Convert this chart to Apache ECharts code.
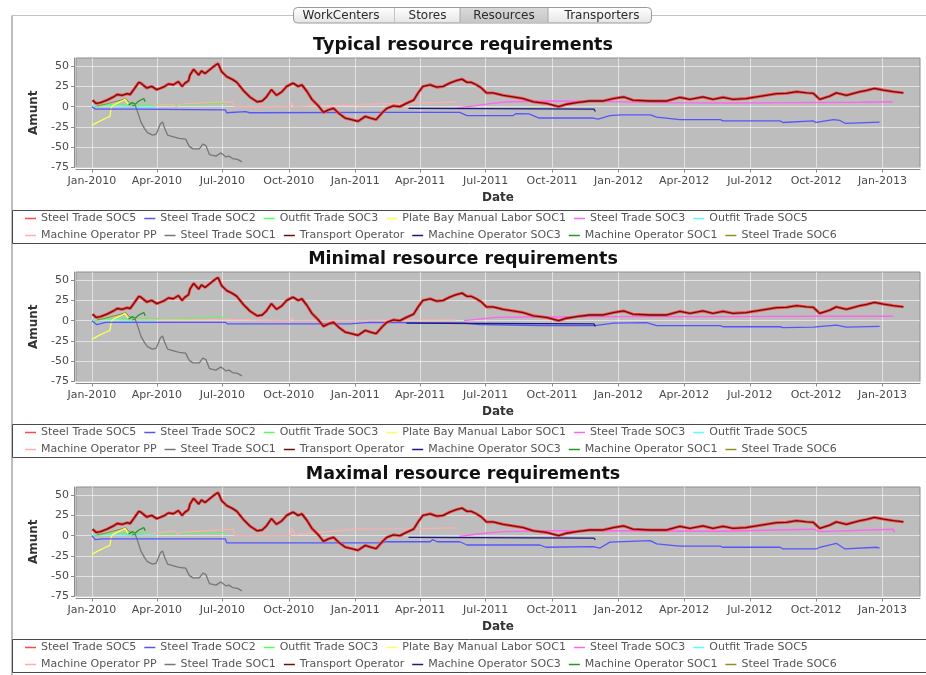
<!DOCTYPE html>
<html>
<head>
<meta charset="utf-8">
<title>Resource requirements</title>
<script src="https://cdn.jsdelivr.net/npm/echarts@6/dist/echarts.min.js"></script>
<style>
  html, body { margin: 0; padding: 0; background: #ffffff; }
  #chart { width: 926px; height: 675px; }
</style>
</head>
<body>
<div id="chart"></div>
<script>
// ---------------------------------------------------------------------------
// Data: resource requirement curves, [date, amount]
// ---------------------------------------------------------------------------
const chartTitles = ['Typical resource requirements', 'Minimal resource requirements', 'Maximal resource requirements'];
const tabNames = ['WorkCenters', 'Stores', 'Resources', 'Transporters'];
const xTickDates = ['2010-01-01', '2010-04-01', '2010-07-01', '2010-10-01', '2011-01-01', '2011-04-01', '2011-07-01',
  '2011-10-01', '2012-01-01', '2012-04-01', '2012-07-01', '2012-10-01', '2013-01-01'];
const yTickValues = [-75, -50, -25, 0, 25, 50];
const dateMin = '2009-12-10';
const dateMax = '2013-02-22';

const legendRow1 = ['Steel Trade SOC5', 'Steel Trade SOC2', 'Outfit Trade SOC3', 'Plate Bay Manual Labor SOC1', 'Steel Trade SOC3', 'Outfit Trade SOC5'];
const legendRow2 = ['Machine Operator PP', 'Steel Trade SOC1', 'Transport Operator', 'Machine Operator SOC3', 'Machine Operator SOC1', 'Steel Trade SOC6'];

// Curves that are the same in all three scenarios
const transportOperator = [
  ['2010-01-02', 8], ['2010-01-07', 4], ['2010-01-13', 5], ['2010-01-22', 8], ['2010-01-31', 12], ['2010-02-05', 15],
  ['2010-02-12', 14], ['2010-02-19', 16], ['2010-02-23', 15], ['2010-02-28', 21], ['2010-03-07', 30], ['2010-03-10', 29],
  ['2010-03-18', 23], ['2010-03-25', 25], ['2010-04-01', 21], ['2010-04-10', 24], ['2010-04-17', 28], ['2010-04-24', 27],
  ['2010-05-01', 31], ['2010-05-06', 25], ['2010-05-10', 29], ['2010-05-15', 32], ['2010-05-17', 39], ['2010-05-22', 46],
  ['2010-05-29', 39], ['2010-06-02', 44], ['2010-06-07', 41], ['2010-06-14', 46], ['2010-06-21', 51], ['2010-06-25', 53],
  ['2010-06-30', 43], ['2010-07-07', 37], ['2010-07-14', 34], ['2010-07-21', 30], ['2010-07-30', 20], ['2010-08-08', 12],
  ['2010-08-18', 6], ['2010-08-25', 7], ['2010-08-31', 12], ['2010-09-07', 21], ['2010-09-14', 14], ['2010-09-21', 18],
  ['2010-09-28', 25], ['2010-10-07', 29], ['2010-10-14', 25], ['2010-10-19', 27], ['2010-10-26', 19], ['2010-11-02', 9],
  ['2010-11-11', 1], ['2010-11-18', -7], ['2010-11-25', -4], ['2010-12-02', -2], ['2010-12-09', -8], ['2010-12-18', -14],
  ['2010-12-27', -16], ['2011-01-05', -18], ['2011-01-15', -12], ['2011-01-22', -14], ['2011-01-30', -16], ['2011-02-07', -8],
  ['2011-02-14', -2], ['2011-02-23', 1], ['2011-03-04', 0], ['2011-03-13', 4], ['2011-03-23', 8], ['2011-03-30', 18],
  ['2011-04-05', 25], ['2011-04-15', 27], ['2011-04-24', 24], ['2011-05-03', 25], ['2011-05-12', 29], ['2011-05-21', 32],
  ['2011-05-29', 34], ['2011-06-05', 30], ['2011-06-11', 30], ['2011-06-18', 27], ['2011-06-25', 23], ['2011-07-02', 17],
  ['2011-07-11', 17], ['2011-07-25', 14], ['2011-08-08', 12], ['2011-08-22', 10], ['2011-09-05', 6], ['2011-09-23', 4],
  ['2011-10-10', 0], ['2011-10-21', 3], ['2011-11-04', 5], ['2011-11-22', 7], ['2011-12-11', 7], ['2011-12-25', 10],
  ['2012-01-08', 12], ['2012-01-21', 8], ['2012-02-14', 7], ['2012-03-08', 7], ['2012-03-26', 11.5], ['2012-04-09', 9],
  ['2012-04-27', 12], ['2012-05-11', 9], ['2012-05-25', 11.5], ['2012-06-08', 9], ['2012-06-26', 10], ['2012-07-10', 12],
  ['2012-07-24', 14], ['2012-08-07', 16], ['2012-08-21', 16.5], ['2012-09-04', 18.5], ['2012-09-18', 17], ['2012-09-27', 16.5],
  ['2012-10-06', 9], ['2012-10-20', 13], ['2012-10-29', 17], ['2012-11-12', 14], ['2012-12-01', 18.5], ['2012-12-10', 20],
  ['2012-12-21', 22.5], ['2013-01-02', 20.5], ['2013-01-16', 18.5], ['2013-01-30', 17]
];
// The SOC5 steel trade requirement runs along the transport operator curve
const steelTradeSoc5 = transportOperator;

const steelTradeSoc1 = [
  ['2010-02-26', 1], ['2010-03-02', 2], ['2010-03-06', -8], ['2010-03-10', -19], ['2010-03-15', -27], ['2010-03-19', -32],
  ['2010-03-26', -35], ['2010-03-31', -34], ['2010-04-02', -30], ['2010-04-06', -21], ['2010-04-09', -19], ['2010-04-12', -27],
  ['2010-04-16', -35], ['2010-04-23', -37], ['2010-05-02', -39], ['2010-05-11', -40], ['2010-05-16', -49], ['2010-05-21', -52],
  ['2010-05-30', -52], ['2010-06-04', -46], ['2010-06-08', -48], ['2010-06-13', -59], ['2010-06-22', -61], ['2010-06-29', -57],
  ['2010-07-06', -62], ['2010-07-10', -61], ['2010-07-15', -64], ['2010-07-22', -65], ['2010-07-28', -68]
];
const plateBaySoc1 = [
  ['2010-01-01', -23], ['2010-01-09', -19], ['2010-01-21', -14], ['2010-01-26', -12], ['2010-01-28', -1], ['2010-01-31', 2],
  ['2010-02-05', 4], ['2010-02-12', 7], ['2010-02-16', 9], ['2010-02-18', 6], ['2010-02-20', 3]
];
const steelTradeSoc6 = [
  ['2010-01-08', 1], ['2010-01-20', 3], ['2010-02-01', 6], ['2010-02-10', 8], ['2010-02-17', 10], ['2010-02-22', 5], ['2010-02-26', 3]
];
const machineOpSoc1 = [
  ['2010-02-21', 2], ['2010-02-26', 5], ['2010-03-02', 3], ['2010-03-07', 7], ['2010-03-09', 5], ['2010-03-14', 10], ['2010-03-16', 6]
];
const outfitTradeSoc3 = [
  ['2010-01-04', 0], ['2010-01-20', 2], ['2010-02-10', 3], ['2010-03-01', 2], ['2010-03-20', 3], ['2010-04-15', 2],
  ['2010-05-20', 3], ['2010-06-25', 4], ['2010-07-06', 4]
];
const outfitTradeSoc5 = [['2010-01-01', 1], ['2010-02-01', 1], ['2010-03-01', 0], ['2010-04-01', 0]];

// Typical scenario
const steelTradeSoc2Typ = [
  ['2010-01-01', 0], ['2010-01-06', -3], ['2010-03-01', -3], ['2010-03-03', -4], ['2010-07-05', -4], ['2010-07-07', -7.5],
  ['2010-08-02', -6], ['2010-08-08', -7.5], ['2011-02-10', -7], ['2011-05-26', -7], ['2011-06-05', -11], ['2011-08-08', -11],
  ['2011-08-12', -8.5], ['2011-08-30', -9], ['2011-09-13', -14], ['2011-11-27', -14], ['2011-12-04', -15.5], ['2011-12-20', -11],
  ['2012-01-05', -10], ['2012-02-14', -10], ['2012-02-23', -13], ['2012-03-26', -16], ['2012-05-21', -16], ['2012-05-25', -17.5],
  ['2012-08-12', -17.5], ['2012-08-16', -19.5], ['2012-09-27', -17.5], ['2012-10-01', -19.5], ['2012-10-25', -16], ['2012-11-03', -17],
  ['2012-11-10', -20.5], ['2012-12-28', -19]
];
const machineOpSoc3Typ = [['2011-03-16', -2], ['2011-07-01', -2.5], ['2011-11-28', -3], ['2011-11-30', -6]];
const machineOpPPTyp = [
  ['2010-03-27', 2], ['2010-04-24', 3], ['2010-04-28', 0], ['2010-05-03', 3], ['2010-06-10', 5], ['2010-07-16', 6],
  ['2010-07-18', 0], ['2010-10-03', 0], ['2010-10-05', 5], ['2010-10-08', 0], ['2010-11-01', 1], ['2011-01-03', 2],
  ['2011-01-06', 3], ['2011-03-15', 4], ['2011-05-22', 6]
];
const steelTradeSoc3Typ = [
  ['2011-05-21', -2], ['2011-06-15', 1], ['2011-07-10', 4], ['2011-08-01', 6], ['2011-10-01', 7], ['2011-12-01', 6.5],
  ['2012-03-01', 5], ['2012-06-01', 4.5], ['2012-09-01', 5], ['2012-12-01', 5.5], ['2013-01-15', 6]
];

// Minimal scenario
const steelTradeSoc2Min = [
  ['2010-01-01', 0], ['2010-01-08', -5], ['2010-01-20', -2], ['2010-07-05', -2], ['2010-07-08', -4], ['2010-12-24', -4],
  ['2011-01-22', -2], ['2011-06-01', -3], ['2011-06-23', -5], ['2011-09-14', -6], ['2011-11-29', -6], ['2011-12-25', -3],
  ['2012-02-09', -2.5], ['2012-02-23', -6], ['2012-05-21', -6], ['2012-05-25', -7.5], ['2012-08-12', -7.5], ['2012-08-16', -8.5],
  ['2012-09-27', -8], ['2012-10-29', -5.5], ['2012-11-12', -8], ['2012-12-28', -7]
];
const machineOpSoc3Min = [['2011-03-13', -3], ['2011-07-01', -3.5], ['2011-11-28', -4], ['2011-11-30', -7]];
const machineOpPPMin = [
  ['2010-03-01', 1], ['2010-07-07', 1.5], ['2010-07-09', 0], ['2010-10-03', 0], ['2010-10-05', 4], ['2010-10-08', 0.5],
  ['2011-01-20', 0.5], ['2011-05-20', 1]
];
const steelTradeSoc3Min = [
  ['2011-06-01', 0], ['2011-07-15', 4], ['2011-09-01', 4.5], ['2012-01-01', 5], ['2012-06-01', 5], ['2012-10-01', 5.5], ['2013-01-16', 5.5]
];

// Maximal scenario
const steelTradeSoc2Max = [
  ['2010-01-01', 0], ['2010-01-06', -5], ['2010-01-15', -4], ['2010-07-05', -4], ['2010-07-07', -9], ['2011-02-08', -9],
  ['2011-02-12', -7.5], ['2011-04-15', -7.5], ['2011-04-18', -5], ['2011-04-25', -7.5], ['2011-05-26', -7.5], ['2011-06-05', -11.5],
  ['2011-09-14', -11.5], ['2011-09-23', -14.3], ['2011-11-27', -13.5], ['2011-12-06', -15.5], ['2011-12-20', -8], ['2012-02-14', -6.2],
  ['2012-02-23', -10.2], ['2012-03-26', -13], ['2012-05-21', -13], ['2012-05-25', -14.3], ['2012-08-12', -14.3], ['2012-08-16', -16.4],
  ['2012-10-01', -16.4], ['2012-10-06', -14.3], ['2012-10-29', -9.4], ['2012-11-10', -16.4], ['2012-12-24', -14.3], ['2012-12-28', -15.5]
];
const machineOpSoc3Max = [['2011-03-16', -2], ['2011-11-28', -3], ['2011-11-30', -5]];
const machineOpPPMax = [
  ['2010-03-13', 1], ['2010-04-26', 6], ['2010-04-29', 2], ['2010-05-03', 4], ['2010-07-16', 8], ['2010-07-18', 0],
  ['2010-10-03', 0], ['2010-10-05', 9], ['2010-10-10', 1], ['2010-10-17', 2], ['2011-01-03', 8], ['2011-03-15', 8.5], ['2011-05-22', 9.5]
];
const steelTradeSoc3Max = [
  ['2011-05-25', -1], ['2011-06-20', 2], ['2011-07-25', 5], ['2011-10-01', 6], ['2011-12-20', 6], ['2012-05-20', 5.5],
  ['2012-09-27', 8], ['2012-10-06', 5], ['2013-01-16', 8], ['2013-01-18', 4]
];

// ---------------------------------------------------------------------------
// Series look (JFreeChart-style palette)
// ---------------------------------------------------------------------------
const seriesLook = {
  'Steel Trade SOC5': { color: '#ff4a4a', width: 3 },
  'Steel Trade SOC2': { color: '#5555ff', width: 1.3 },
  'Outfit Trade SOC3': { color: '#55ff55', width: 1 },
  'Plate Bay Manual Labor SOC1': { color: '#ffff55', width: 1.3 },
  'Steel Trade SOC3': { color: '#ff66ee', width: 1.4 },
  'Outfit Trade SOC5': { color: '#55ffff', width: 1 },
  'Machine Operator PP': { color: '#ffafaf', width: 1.2 },
  'Steel Trade SOC1': { color: '#777777', width: 1.3 },
  'Transport Operator': { color: '#6a1010', width: 1.3 },
  'Machine Operator SOC3': { color: '#1a1a80', width: 1.3 },
  'Machine Operator SOC1': { color: '#1f9a1f', width: 1.3 },
  'Steel Trade SOC6': { color: '#909020', width: 1 }
};

const panels = [
  { soc2: steelTradeSoc2Typ, soc3mo: machineOpSoc3Typ, pp: machineOpPPTyp, soc3: steelTradeSoc3Typ },
  { soc2: steelTradeSoc2Min, soc3mo: machineOpSoc3Min, pp: machineOpPPMin, soc3: steelTradeSoc3Min },
  { soc2: steelTradeSoc2Max, soc3mo: machineOpSoc3Max, pp: machineOpPPMax, soc3: steelTradeSoc3Max }
];

// ---------------------------------------------------------------------------
// Layout
// ---------------------------------------------------------------------------
const FONT = '"DejaVu Sans", Verdana, sans-serif';
const PANEL_STEP = [0, 214, 429];
const PLOT_TOP = 58;
const PLOT_H = 109.5;
const MONTHS = ['Jan', 'Feb', 'Mar', 'Apr', 'May', 'Jun', 'Jul', 'Aug', 'Sep', 'Oct', 'Nov', 'Dec'];

function toTime(s) {
  const p = s.split('-').map(Number);
  return Date.UTC(p[0], p[1] - 1, p[2]);
}
function monthLabel(v) {
  const d = new Date(Math.round(v));
  return MONTHS[d.getUTCMonth()] + '-' + d.getUTCFullYear();
}
function timed(points) {
  return points.map(function (pt) { return [toTime(pt[0]), pt[1]]; });
}
const xTickTimes = xTickDates.map(toTime);
const gridLine = { show: true, lineStyle: { color: 'rgba(255,255,255,0.55)', width: 1, type: 'solid' } };

const grids = [], xAxes = [], yAxes = [], titles = [], legends = [], series = [];

PANEL_STEP.forEach(function (off, i) {
  grids.push({
    left: 76, right: 6, top: PLOT_TOP + off, height: PLOT_H,
    show: true, backgroundColor: '#bdbdbd', borderColor: '#8e8e8e', borderWidth: 1,
    outerBoundsMode: 'none', containLabel: false
  });
  xAxes.push({
    type: 'value', gridIndex: i, min: toTime(dateMin), max: toTime(dateMax), offset: 2, scale: true,
    name: 'Date', nameLocation: 'middle', nameGap: 22,
    nameTextStyle: { fontFamily: FONT, fontWeight: 'bold', fontSize: 12, color: '#333' },
    axisLine: { show: true, onZero: false, lineStyle: { color: '#8a8a8a', width: 1 } },
    axisTick: { show: true, length: 3, customValues: xTickTimes, lineStyle: { color: '#8a8a8a' } },
    axisLabel: {
      customValues: xTickTimes, formatter: monthLabel, margin: 6,
      fontFamily: FONT, fontSize: 11, color: '#4a4a4a', hideOverlap: false
    },
    splitLine: gridLine
  });
  yAxes.push({
    type: 'value', gridIndex: i, min: -75, max: 60, offset: 2,
    name: 'Amunt', nameLocation: 'middle', nameGap: 34, nameRotate: 90,
    nameTextStyle: { fontFamily: FONT, fontWeight: 'bold', fontSize: 12, color: '#333' },
    axisLine: { show: true, lineStyle: { color: '#8a8a8a', width: 1 } },
    axisTick: { show: true, length: 3, customValues: yTickValues, lineStyle: { color: '#8a8a8a' } },
    axisLabel: { customValues: yTickValues, margin: 5, fontFamily: FONT, fontSize: 11, color: '#4a4a4a' },
    splitLine: gridLine
  });
  titles.push({
    text: chartTitles[i], left: 'center', top: 36 + off, padding: 0,
    textStyle: { fontFamily: FONT, fontWeight: 'bold', fontSize: 17.5, color: '#111' }
  });
  [legendRow1, legendRow2].forEach(function (row, r) {
    legends.push({
      data: row, left: 25, top: 213 + r * 17 + off, padding: 0,
      icon: 'rect', itemWidth: 11, itemHeight: 1.5, itemGap: 8, selectedMode: false,
      textStyle: { fontFamily: FONT, fontSize: 11, color: '#555' }
    });
  });

  const p = panels[i];
  const curves = [
    ['Outfit Trade SOC5', outfitTradeSoc5],
    ['Outfit Trade SOC3', outfitTradeSoc3],
    ['Machine Operator PP', p.pp],
    ['Steel Trade SOC3', p.soc3],
    ['Steel Trade SOC6', steelTradeSoc6],
    ['Plate Bay Manual Labor SOC1', plateBaySoc1],
    ['Machine Operator SOC1', machineOpSoc1],
    ['Steel Trade SOC1', steelTradeSoc1],
    ['Steel Trade SOC2', p.soc2],
    ['Machine Operator SOC3', p.soc3mo],
    ['Steel Trade SOC5', steelTradeSoc5],
    ['Transport Operator', transportOperator]
  ];
  curves.forEach(function (c) {
    const look = seriesLook[c[0]];
    series.push({
      type: 'line', name: c[0], xAxisIndex: i, yAxisIndex: i, data: timed(c[1]),
      showSymbol: false, symbol: 'none', silent: true, animation: false,
      lineStyle: { color: look.color, width: look.width },
      itemStyle: { color: look.color }
    });
  });
});

// ---------------------------------------------------------------------------
// Window chrome: tab strip, panel frame and legend boxes
// ---------------------------------------------------------------------------
const graphics = [
  { type: 'line', shape: { x1: 12, y1: 15.5, x2: 926, y2: 15.5 }, style: { stroke: '#c2c2c2', lineWidth: 1 }, z: 1 },
  { type: 'line', shape: { x1: 12, y1: 15.5, x2: 12, y2: 675 }, style: { stroke: '#bdbdbd', lineWidth: 2 }, z: 1 },
  {
    type: 'rect', shape: { x: 293.5, y: 7.5, width: 358, height: 15.5, r: 4 },
    style: {
      fill: { type: 'linear', x: 0, y: 0, x2: 0, y2: 1, colorStops: [{ offset: 0, color: '#ffffff' }, { offset: 1, color: '#e4e4e4' }] },
      stroke: '#9a9a9a', lineWidth: 1
    }, z: 2
  },
  {
    type: 'rect', shape: { x: 460, y: 8, width: 88, height: 14.5 },
    style: {
      fill: { type: 'linear', x: 0, y: 0, x2: 0, y2: 1, colorStops: [{ offset: 0, color: '#d9d9d9' }, { offset: 1, color: '#c6c6c6' }] }
    }, z: 3
  },
  { type: 'line', shape: { x1: 394.5, y1: 8, x2: 394.5, y2: 22.5 }, style: { stroke: '#c4c4c4', lineWidth: 1 }, z: 4 },
  { type: 'line', shape: { x1: 460, y1: 8, x2: 460, y2: 22.5 }, style: { stroke: '#a8a8a8', lineWidth: 1 }, z: 4 },
  { type: 'line', shape: { x1: 548, y1: 8, x2: 548, y2: 22.5 }, style: { stroke: '#a8a8a8', lineWidth: 1 }, z: 4 }
];
const tabCenters = [341, 427.5, 504, 602];
tabNames.forEach(function (name, k) {
  graphics.push({
    type: 'text', x: tabCenters[k], y: 15.5, z: 5,
    style: { text: name, fill: '#2a2a2a', font: '12px ' + FONT, textAlign: 'center', textVerticalAlign: 'middle' }
  });
});
PANEL_STEP.forEach(function (off) {
  graphics.push({
    type: 'rect', shape: { x: 12.5, y: 210.5 + off, width: 930, height: 33 },
    style: { fill: 'none', stroke: '#4a4a4a', lineWidth: 1 }, z: 1
  });
});

const chart = echarts.init(document.getElementById('chart'), null, { renderer: 'canvas' });
chart.setOption({
  animation: false,
  backgroundColor: '#ffffff',
  title: titles,
  legend: legends,
  grid: grids,
  xAxis: xAxes,
  yAxis: yAxes,
  series: series,
  graphic: graphics
});
</script>
</body>
</html>
